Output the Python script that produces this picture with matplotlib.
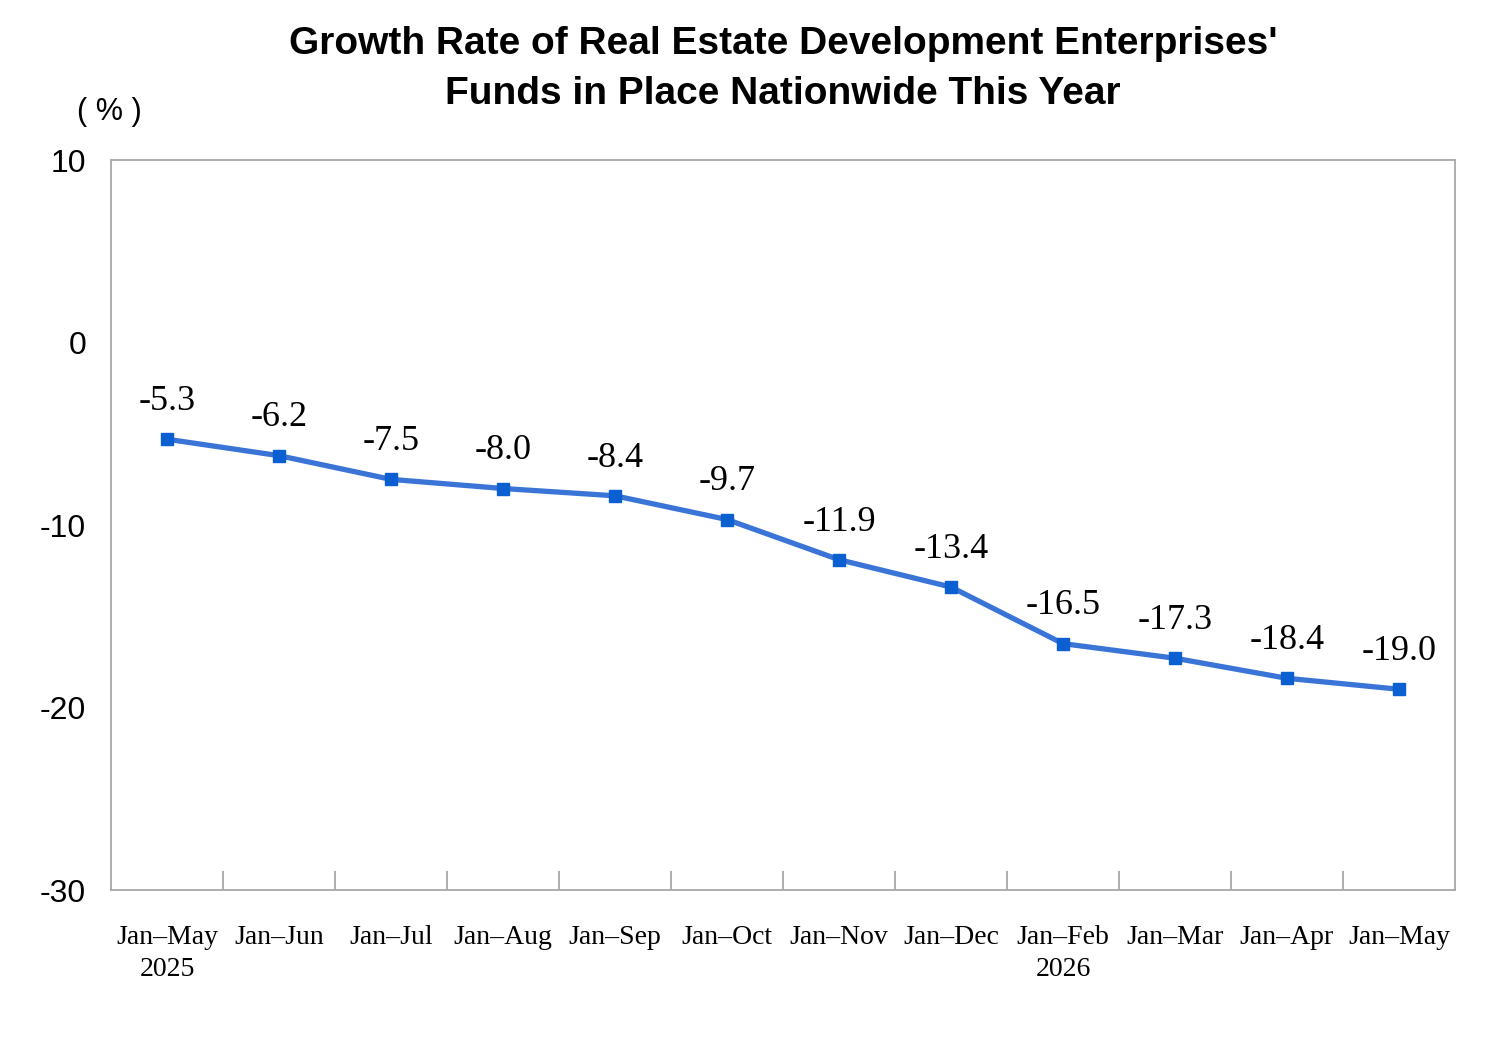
import numpy as np
import matplotlib.pyplot as plt

periods = ['Jan–May\n2025', 'Jan–Jun', 'Jan–Jul', 'Jan–Aug', 'Jan–Sep', 'Jan–Oct',
           'Jan–Nov', 'Jan–Dec', 'Jan–Feb\n2026', 'Jan–Mar', 'Jan–Apr', 'Jan–May']
growth = [-5.3, -6.2, -7.5, -8.0, -8.4, -9.7, -11.9, -13.4, -16.5, -17.3, -18.4, -19.0]
yticks = [10, 0, -10, -20, -30]

sans = ['Liberation Sans', 'DejaVu Sans']
serif = ['Liberation Serif', 'DejaVu Serif']

fig = plt.figure(figsize=(14.99, 10.49), dpi=100)
ax = fig.add_axes([111/1499, 1 - 890/1049, (1455-111)/1499, (890-160)/1049])

x = np.arange(len(growth))
ax.plot(x, growth, color='#3a74d6', lw=3.8, marker='s', ms=9,
        mfc='#0b5fd0', mec='#0b5fd0', zorder=3)

for xi, v in zip(x, growth):
    ax.annotate(f'{v:.1f}', (xi, v), xytext=(0, 21), textcoords='offset points',
                ha='center', va='baseline', fontsize=26, family=serif)

ax.set_xlim(-0.5, len(growth) - 0.5)
ax.set_ylim(-30, 10)
ax.set_yticks(yticks)
ax.set_yticklabels([str(t) for t in yticks], family=sans, fontsize=23)
ax.tick_params(axis='y', length=0, pad=18)

ax.set_xticks(x)
ax.set_xticklabels(periods, family=serif, fontsize=20, linespacing=1.4, va='top')
ax.tick_params(axis='x', which='major', length=0, pad=25)
ax.set_xticks(np.arange(0.5, len(growth) - 1, 1), minor=True)
ax.tick_params(axis='x', which='minor', direction='in', length=14, color='#a0a0a0', width=1.2)

for s in ax.spines.values():
    s.set_color('#a8a8a8')
    s.set_linewidth(1.3)

fig.text(783/1499, 1 - 69/1049, "Growth Rate of Real Estate Development Enterprises'\nFunds in Place Nationwide This Year",
         ha='center', va='center', fontsize=28, fontweight='bold', family=sans, linespacing=1.5)
fig.text(109/1499, 1 - 112/1049, '( % )', ha='center', va='center', fontsize=22, family=sans)

fig.savefig('out.png', dpi=100)
